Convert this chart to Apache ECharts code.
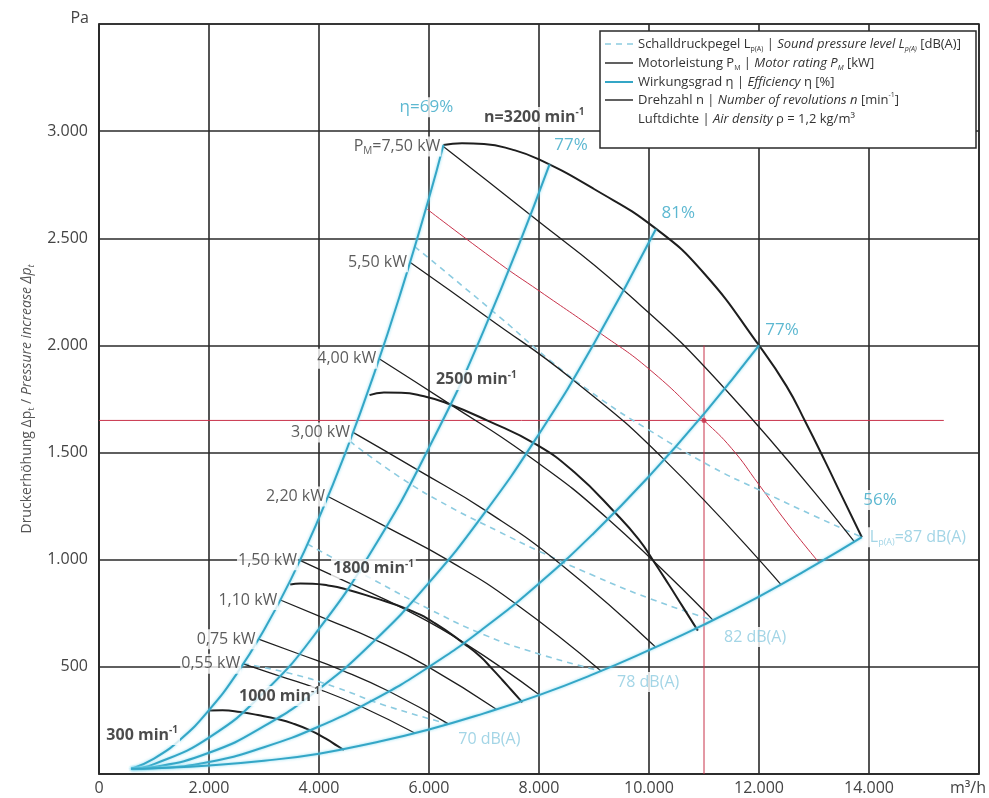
<!DOCTYPE html>
<html>
<head>
<meta charset="utf-8">
<script src="https://cdn.jsdelivr.net/npm/echarts@6/dist/echarts.min.js"></script>
<style>
html, body { margin: 0; padding: 0; background: #fff; }
#chart { width: 989px; height: 798px; }
</style>
</head>
<body>
<div id="chart"></div>
<script>
// Fan performance map: volume flow (m³/h) against total pressure increase (Pa)

// ---- axis ticks ----
const flowTicks = [0, 2000, 4000, 6000, 8000, 10000, 12000, 14000, 16000];
const flowTickText = ['0', '2.000', '4.000', '6.000', '8.000', '10.000', '12.000', '14.000', ''];
const pressureTicks = [0, 500, 1000, 1500, 2000, 2500, 3000, 3500];
const pressureTickText = ['', '500', '1.000', '1.500', '2.000', '2.500', '3.000', ''];
const flowUnit = 'm³/h';
const pressureUnit = 'Pa';

// ---- efficiency curves η [%] (flow, pressure) ----
const eta69 = [[585,24],[1000,72],[1500,166],[2000,298],[2500,466],[3000,672],[3500,914],[4000,1195],[4500,1512],[5000,1866],[5500,2258],[6000,2688],[6263,2935]];
const eta77a = [[585,24],[1000,46],[2000,170],[3000,381],[4000,677],[5000,1058],[6000,1523],[7000,2073],[8192,2845]];
const eta81 = [[585,24],[1000,33],[2000,99],[3000,223],[4000,397],[5000,620],[6000,893],[7000,1215],[8000,1587],[9000,2009],[10124,2542]];
const eta77b = [[585,24],[1000,27],[2000,56],[3000,125],[4000,222],[5000,347],[6000,500],[7000,681],[8000,889],[9000,1125],[10000,1389],[11000,1681],[12000,2000]];
const eta56 = [[585,24],[1000,27],[2000,40],[3000,62],[4000,95],[5000,146],[6000,208],[7000,283],[8000,368],[9000,467],[10000,578],[11000,697],[12000,828],[13000,972],[13870,1105]];

// ---- speed curves n [min⁻¹] ----
const n3200 = [[6263,2935],[6600,2943],[7000,2940],[7500,2915],[8000,2868],[9000,2730],[10124,2545],[11000,2337],[12000,2000],[12500,1810],[12850,1640],[13200,1460],[13500,1300],[13870,1105]];
const n2500 = [[4918,1768],[5181,1780],[5495,1779],[5888,1764],[6280,1735],[7065,1649],[7947,1538],[8635,1410],[9420,1210],[9813,1095],[10087,992],[10362,883],[10598,787],[10888,669]];
const n1800 = [[3476,884],[3663,889],[3885,888],[4163,880],[4440,866],[4995,823],[5619,768],[6105,704],[6660,604],[6938,547],[7132,495],[7326,441],[7493,393],[7698,334]];
const n1000 = [[2011,296],[2247,297],[2568,289],[2889,275],[3250,256],[3531,235],[3852,202],[4125,165],[4334,131],[4452,112]];

// ---- motor rating lines P_M [kW] ----
const p750 = [[6261,2928],[7851,2607],[9540,2257],[11379,1798],[13733,1084]];
const p550 = [[5654,2388],[7090,2126],[8614,1840],[10276,1467],[12400,884]];
const p400 = [[5094,1938],[6386,1725],[7760,1493],[9255,1190],[11167,717]];
const p300 = [[4619,1594],[5792,1419],[7037,1228],[8395,979],[10128,590]];
const p220 = [[4164,1295],[5222,1153],[6345,998],[7568,796],[9133,480]];
const p150 = [[3653,997],[4580,887],[5565,768],[6638,612],[8010,369]];
const p110 = [[3297,812],[4134,723],[5024,626],[5993,499],[7231,301]];
const p075 = [[2901,629],[3637,560],[4420,484],[5270,386],[6360,233]];
const p055 = [[2622,514],[3287,457],[3994,396],[4765,315],[5749,190]];

// ---- sound pressure level lines L_p(A) [dB(A)] ----
const L87 = [[5740,2461],[7279,2134],[8200,1930],[9150,1745],[10000,1605],[11150,1432],[12000,1326],[13000,1205],[13870,1105]];
const L82 = [[4560,1553],[5500,1380],[6371,1248],[7279,1130],[8000,1040],[9000,925],[10000,820],[11167,717]];
const L78 = [[3790,1073],[5000,905],[6000,770],[7000,650],[8000,560],[9133,480]];
const L70 = [[2625,515],[3500,468],[4300,405],[5200,320],[6360,233]];

// ---- system curve and duty point ----
const systemCurve = [[5945,2640],[7279,2383],[8000,2255],[9103,2059],[10000,1890],[11000,1650],[11500,1520],[12000,1350],[12500,1175],[13087,988]];
const dutyPoint = [11000, 1650];
const dutyFlowLineEnd = 15360;
const dutyPressureLineTop = 2000;

// ---- label texts ----
const powerLabels = ['P{ks|M}=7,50 kW', '5,50 kW', '4,00 kW', '3,00 kW', '2,20 kW', '1,50 kW', '1,10 kW', '0,75 kW', '0,55 kW'];
const powerLines = [p750, p550, p400, p300, p220, p150, p110, p075, p055];

// label anchors in chart units (flow, pressure)
const speedNotes = [
  { text: 'n=3200 min{ns|-1}', at: [7915, 3066] },
  { text: '2500 min{ns|-1}', at: [6861, 1839] },
  { text: '1800 min{ns|-1}', at: [4990, 957] },
  { text: '1000 min{ns|-1}', at: [3281, 364] },
  { text: '300 min{ns|-1}', at: [785, 182] }
];
const effNotes = [
  { text: 'η=69%', at: [5953, 3112] },
  { text: '77%', at: [8584, 2935] },
  { text: '81%', at: [10531, 2618] },
  { text: '77%', at: [12419, 2072] },
  { text: '56%', at: [14200, 1279] }
];
const soundNotes = [
  { text: '82 dB(A)', at: [11929, 639] },
  { text: '78 dB(A)', at: [9985, 429] },
  { text: '70 dB(A)', at: [7097, 159] }
];
const soundEndNote = 'L{ds|p(A)}=87 dB(A)';

const FONT = '"Open Sans", "DejaVu Sans", sans-serif';
const CYAN = '#34a6c6';
const CYAN_LIGHT = '#8ccbe0';
const INK = '#1e1e1e';
const RED = '#c8324a';

const rich = {
  ks: { fontFamily: FONT, fontSize: 10, color: '#333', verticalAlign: 'bottom', lineHeight: 10 },
  ns: { fontFamily: FONT, fontSize: 10, fontWeight: 'bold', color: INK, verticalAlign: 'top', lineHeight: 10 },
  ds: { fontFamily: FONT, fontSize: 9, color: CYAN_LIGHT, verticalAlign: 'bottom', lineHeight: 9 }
};

function curve(name, data, color, width, extra) {
  return Object.assign({
    type: 'line', name: name, data: data,
    smooth: 0.5,
    showSymbol: false, symbol: 'none', silent: true, animation: false,
    lineStyle: { color: color, width: width }, z: 3
  }, extra || {});
}

const series = [];

// system curve and duty lines
series.push(curve('system', systemCurve, RED, 1, { z: 2 }));
series.push(curve('duty-flow', [[0, dutyPoint[1]], [dutyFlowLineEnd, dutyPoint[1]]], RED, 1, { smooth: false, z: 2 }));
series.push(curve('duty-pressure', [[dutyPoint[0], 0], [dutyPoint[0], dutyPressureLineTop]], RED, 1, { smooth: false, z: 2 }));

// sound level lines
[L87, L82, L78, L70].forEach(function (d, i) {
  series.push(curve('L' + i, d, CYAN_LIGHT, 1.6, { lineStyle: { color: CYAN_LIGHT, width: 1.6, type: [6, 5] }, z: 3 }));
});

// power lines
powerLines.forEach(function (d, i) {
  series.push(curve('P' + i, d, INK, 1.3, { z: 4 }));
});

// speed curves
[n3200, n2500, n1800, n1000].forEach(function (d, i) {
  series.push(curve('n' + i, d, INK, 2, { z: 5 }));
});

// efficiency curves
[eta69, eta77a, eta81, eta77b, eta56].forEach(function (d, i) {
  series.push(curve('eta' + i, d, CYAN, 2, {
    lineStyle: { color: CYAN, width: 2, shadowBlur: 3, shadowColor: 'rgba(120,215,240,0.9)' }, z: 6
  }));
});

// duty point
series.push({
  type: 'scatter', data: [dutyPoint], symbol: 'circle', symbolSize: 5,
  itemStyle: { color: RED }, silent: true, animation: false, z: 7
});

// power labels at line starts
series.push({
  type: 'scatter', symbolSize: 0, silent: true, animation: false, z: 8,
  data: powerLines.map(function (d, i) { return { value: d[0], name: powerLabels[i] }; }),
  label: {
    show: true, position: 'left', distance: 2,
    formatter: function (p) { return p.name; },
    fontFamily: FONT, fontSize: 16, color: '#333', lineHeight: 20,
    backgroundColor: '#fff', padding: [0, 1], rich: rich
  }
});

function noteSeries(notes, style) {
  return {
    type: 'scatter', symbolSize: 0, silent: true, animation: false, z: 8,
    data: notes.map(function (n) { return { value: n.at, name: n.text }; }),
    label: Object.assign({
      show: true, position: 'inside',
      formatter: function (p) { return p.name; },
      backgroundColor: '#fff', padding: [0, 2], rich: rich
    }, style)
  };
}

series.push(noteSeries(speedNotes, { fontFamily: FONT, fontSize: 16, fontWeight: 'bold', color: INK, lineHeight: 20 }));
series.push(noteSeries(effNotes, { fontFamily: FONT, fontSize: 17, color: CYAN, lineHeight: 20 }));
series.push(noteSeries(soundNotes, { fontFamily: FONT, fontSize: 16, color: CYAN_LIGHT, lineHeight: 20 }));
series.push({
  type: 'scatter', symbolSize: 0, silent: true, animation: false, z: 8,
  data: [{ value: n3200[n3200.length - 1], name: soundEndNote }],
  label: {
    show: true, position: 'right', distance: 6,
    formatter: function (p) { return p.name; },
    fontFamily: FONT, fontSize: 16, color: CYAN_LIGHT, lineHeight: 20,
    backgroundColor: '#fff', padding: [0, 2], rich: rich
  }
});

// legend box
const legendRows = [
  { y: 44, sample: 'dash', text: 'Schalldruckpegel L{s|p(A)} | {i|Sound pressure level L}{is|p(A)} [dB(A)]' },
  { y: 63, sample: 'ink', text: 'Motorleistung P{s|M} | {i|Motor rating P}{is|M} [kW]' },
  { y: 82, sample: 'cyan', text: 'Wirkungsgrad η | {i|Efficiency} η [%]' },
  { y: 100, sample: 'ink', text: 'Drehzahl n | {i|Number of revolutions n} [min{u|-1}]' },
  { y: 119, sample: null, text: 'Luftdichte | {i|Air density} ρ = 1,2 kg/m³' }
];
const legendRich = {
  i: { fontFamily: FONT, fontSize: 13, fontStyle: 'italic', color: '#333', lineHeight: 17 },
  s: { fontFamily: FONT, fontSize: 7, color: '#333', verticalAlign: 'bottom', lineHeight: 7 },
  is: { fontFamily: FONT, fontSize: 7, fontStyle: 'italic', color: '#333', verticalAlign: 'bottom', lineHeight: 7 },
  u: { fontFamily: FONT, fontSize: 7, color: '#333', verticalAlign: 'top', lineHeight: 7 }
};
const legendGraphics = [{
  type: 'rect', shape: { x: 600, y: 31, width: 376, height: 117 },
  style: { fill: '#fff', stroke: '#2a2a2a', lineWidth: 1.5 }, z: 100
}];
legendRows.forEach(function (r) {
  if (r.sample) {
    const st = r.sample === 'dash'
      ? { stroke: CYAN_LIGHT, lineWidth: 1.6, lineDash: [6, 5] }
      : { stroke: r.sample === 'cyan' ? CYAN : INK, lineWidth: r.sample === 'cyan' ? 2 : 1.4 };
    legendGraphics.push({ type: 'line', shape: { x1: 605, y1: r.y, x2: 633, y2: r.y }, style: st, z: 101 });
  }
  legendGraphics.push({
    type: 'text', x: 638, y: r.y, z: 101,
    style: {
      text: r.text, fill: '#333', fontFamily: FONT, fontSize: 13, lineHeight: 17,
      verticalAlign: 'middle', align: 'left', rich: legendRich
    }
  });
});

// axis units
legendGraphics.push({
  type: 'text', x: 968, y: 788, z: 101,
  style: { text: flowUnit, fill: '#444', fontFamily: FONT, fontSize: 16, align: 'center', verticalAlign: 'middle' }
});
legendGraphics.push({
  type: 'text', x: 89, y: 18, z: 101,
  style: { text: pressureUnit, fill: '#444', fontFamily: FONT, fontSize: 16, align: 'right', verticalAlign: 'middle' }
});

const chart = echarts.init(document.getElementById('chart'), null, { renderer: 'canvas' });
chart.setOption({
  animation: false,
  backgroundColor: '#fff',
  grid: { left: 99, right: 10, top: 24, bottom: 24, show: true, borderColor: '#2a2a2a', borderWidth: 1.6 },
  xAxis: {
    type: 'value', min: flowTicks[0], max: flowTicks[flowTicks.length - 1], interval: 2000,
    axisLine: { lineStyle: { color: '#2a2a2a', width: 1.6 } },
    axisTick: { show: false },
    splitLine: { lineStyle: { color: '#2a2a2a', width: 1.6 } },
    axisLabel: {
      margin: 6, fontFamily: FONT, fontSize: 16, color: '#444',
      formatter: function (v) { const i = flowTicks.indexOf(v); return i >= 0 ? flowTickText[i] : ''; }
    }
  },
  yAxis: {
    type: 'value', min: pressureTicks[0], max: pressureTicks[pressureTicks.length - 1], interval: 500,
    name: 'Druckerhöhung Δp{s|t} / {i|Pressure increase Δp}{is|t}',
    nameLocation: 'middle', nameGap: 37, nameRotate: 90,
    nameTextStyle: {
      fontFamily: FONT, fontSize: 14, color: '#555', lineHeight: 18,
      rich: {
        i: { fontFamily: FONT, fontSize: 14, fontStyle: 'italic', color: '#555', lineHeight: 18 },
        s: { fontFamily: FONT, fontSize: 9, color: '#555', verticalAlign: 'bottom', lineHeight: 9 },
        is: { fontFamily: FONT, fontSize: 9, fontStyle: 'italic', color: '#555', verticalAlign: 'bottom', lineHeight: 9 }
      }
    },
    axisLine: { lineStyle: { color: '#2a2a2a', width: 1.6 } },
    axisTick: { show: false },
    splitLine: { lineStyle: { color: '#2a2a2a', width: 1.6 } },
    axisLabel: {
      margin: 11, fontFamily: FONT, fontSize: 16, color: '#444',
      formatter: function (v) { const i = pressureTicks.indexOf(v); return i >= 0 ? pressureTickText[i] : ''; }
    }
  },
  graphic: legendGraphics,
  series: series
});
</script>
</body>
</html>
